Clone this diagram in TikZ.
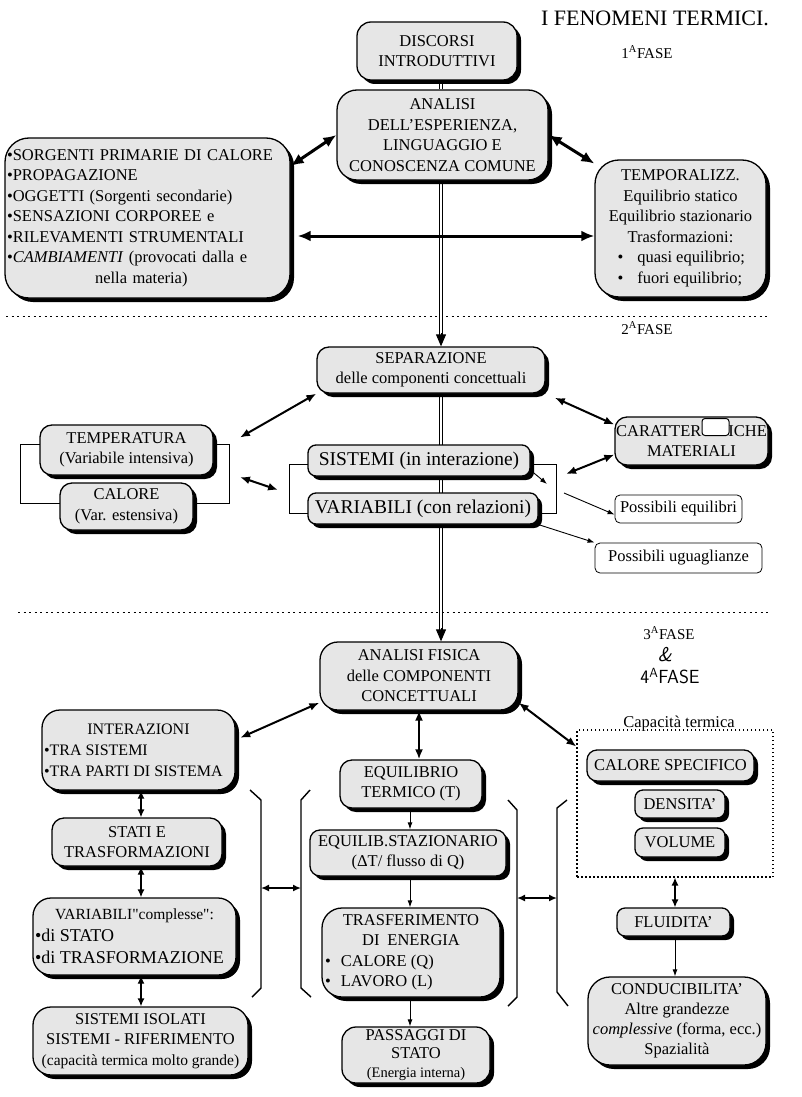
\documentclass[tikz,border=0pt]{standalone}
\usepackage{fontspec}
\setmainfont{Liberation Serif}
\usepackage{tikz}
\usetikzlibrary{arrows.meta,positioning,shadows,backgrounds}
\definecolor{speck}{RGB}{230,230,230}
\newcommand{\lline}[2]{\makebox[#1][l]{#2}}

\begin{document}
\begin{tikzpicture}[x=1pt,y=-1pt,
      font=\fontsize{16.5}{20.5}\selectfont,
      wh/.style 2 args={minimum width=#1,minimum height=#2},
      box/.style={draw,line width=1.3pt,rounded corners=10pt,fill=speck,align=center,inner sep=2pt,
                  drop shadow={shadow xshift=4pt,shadow yshift=-4pt,fill=black,opacity=1}},
      note/.style={draw,line width=0.8pt,rounded corners=5pt,fill=white,inner sep=2pt},
      grp/.style={draw,line width=1pt,inner sep=0pt},
      capbox/.style={draw,line width=1.2pt,dash pattern=on 1.5pt off 2.5pt,inner sep=0pt},
      sepl/.style={line width=1pt,dash pattern=on 2pt off 3.5pt},
      dbl/.style={double,double distance=2.4pt,line width=0.8pt},
      dhead/.style={-{Triangle[length=12pt,width=10pt]},line width=1pt},
      ar/.style={{Latex[length=13pt,width=11pt]}-{Latex[length=13pt,width=11pt]},line width=3pt},
      ar2/.style={{Latex[length=10pt,width=8pt]}-{Latex[length=10pt,width=8pt]},line width=2pt},
      tar2/.style={{Latex[length=8pt,width=7pt]}-{Latex[length=8pt,width=7pt]},line width=1.3pt},
      tar/.style={-{Latex[length=7pt,width=5pt]},line width=0.9pt},
      brk/.style={line width=1.4pt}]
  \useasboundingbox (0,0) rectangle (801,1097);

  % 1a fase
  \node[font=\fontsize{22}{24}\selectfont] (title) at (655,18) {I FENOMENI TERMICI.};
  \node[font=\fontsize{15}{18}\selectfont] (ph1) at (647,52) {1\textsuperscript{A}FASE};
  \node[box,rounded corners=14pt,wh={160pt}{58pt}] (disc) at (437,51) {DISCORSI\\INTRODUTTIVI};
  \node[box,rounded corners=20pt,wh={211pt}{90pt}] (anal) at (442.5,135) {ANALISI\\DELL'ESPERIENZA,\\LINGUAGGIO E\\CONOSCENZA COMUNE};
  \node[box,rounded corners=24pt,wh={285pt}{160pt},text width=281pt,align=left] (fonti) at (147.5,218) {%
    \textbullet SORGENTI PRIMARIE DI CALORE\\
    \textbullet PROPAGAZIONE\\
    \textbullet OGGETTI (Sorgenti secondarie)\\
    \textbullet SENSAZIONI CORPOREE e\\
    \textbullet RILEVAMENTI STRUMENTALI\\
    \textbullet\textit{CAMBIAMENTI} (provocati dalla e\\
    \hspace*{88pt}nella materia)};
  \node[box,rounded corners=24pt,wh={171pt}{137pt}] (tempo) at (680.5,228.5) {TEMPORALIZZ.\\Equilibrio statico\\Equilibrio stazionario\\Trasformazioni:\\\lline{126pt}{\textbullet\hspace{14pt}quasi equilibrio;}\\\lline{126pt}{\textbullet\hspace{14pt}fuori equilibrio;}};

  % 2a fase
  \node[font=\fontsize{15}{18}\selectfont] (ph2) at (647,328) {2\textsuperscript{A}FASE};
  \node[box,rounded corners=12pt,wh={228pt}{46pt}] (sepa) at (431,370) {SEPARAZIONE\\delle componenti concettuali};
  \node[box,rounded corners=12pt,wh={173pt}{50pt}] (temp) at (126.5,450) {TEMPERATURA\\(Variabile intensiva)};
  \node[box,rounded corners=12pt,wh={133pt}{47pt}] (calo) at (126.5,506.5) {CALORE\\(Var. estensiva)};
  \node[box,rounded corners=8pt,wh={222pt}{31pt},font=\fontsize{19.5}{22}\selectfont] (sist) at (419,460.5) {SISTEMI (in interazione)};
  \node[box,rounded corners=8pt,wh={230pt}{31pt},font=\fontsize{19.5}{22}\selectfont] (vari) at (423,508.5) {VARIABILI (con relazioni)};
  \node[box,rounded corners=12pt,wh={153pt}{48pt},inner xsep=1pt] (cara) at (691.5,441) {CARATTER\hspace{27pt}ICHE\\MATERIALI};
  \node[note,wh={27pt}{17pt},rounded corners=3pt,line width=1pt] (blot) at (715.5,427) {};
  \node[note,wh={127pt}{28pt}] (pequ) at (678.5,509) {Possibili equilibri};
  \node[note,wh={167pt}{30pt}] (pugu) at (678.5,558) {Possibili uguaglianze};

  % 3a e 4a fase
  \node[font=\fontsize{15}{18}\selectfont] (ph3) at (669,633) {3\textsuperscript{A}FASE};
  \node[font=\sffamily\itshape\fontsize{20}{20}\selectfont] (amp) at (665,655) {\&};
  \node[font=\sffamily\fontsize{19}{20}\selectfont] (ph4) at (670,676) {4\textsuperscript{A}FASE};
  \node[box,rounded corners=18pt,wh={198pt}{68pt}] (fisi) at (419,676) {ANALISI FISICA\\delle COMPONENTI\\CONCETTUALI};
  \node[box,rounded corners=18pt,wh={193pt}{80pt},font=\fontsize{16}{21}\selectfont] (inte) at (138.5,750) {INTERAZIONI\\\lline{189pt}{\textbullet TRA SISTEMI}\\\lline{189pt}{\textbullet TRA PARTI DI SISTEMA}};
  \node[box,rounded corners=12pt,wh={170pt}{48pt}] (stat) at (137,842) {STATI E\\TRASFORMAZIONI};
  \node[box,rounded corners=18pt,wh={203pt}{77pt},font=\fontsize{18}{22}\selectfont] (vcom) at (134.5,936.5) {{\fontsize{15.5}{22}\selectfont VARIABILI\textquotedbl complesse\textquotedbl:}\\\lline{199pt}{\textbullet di STATO}\\\lline{199pt}{\textbullet di TRASFORMAZIONE}};
  \node[box,rounded corners=18pt,wh={215pt}{68pt}] (isol) at (140.5,1041) {SISTEMI ISOLATI\\SISTEMI - RIFERIMENTO\\{\fontsize{15.5}{18}\selectfont(capacità termica molto grande)}};
  \node[box,rounded corners=12pt,wh={142pt}{48pt}] (eter) at (411,784) {EQUILIBRIO\\TERMICO (T)};
  \node[box,rounded corners=10pt,wh={196pt}{46pt}] (esta) at (408,853) {EQUILIB.STAZIONARIO\\(ΔT/ flusso di Q)};
  \node[box,rounded corners=20pt,wh={178pt}{89pt}] (tras) at (411,952.5) {TRASFERIMENTO\\DI\hspace{8pt}ENERGIA\\\lline{172pt}{\textbullet\hspace{10pt}CALORE (Q)}\\\lline{172pt}{\textbullet\hspace{10pt}LAVORO (L)}};
  \node[box,rounded corners=14pt,wh={148pt}{56pt},font=\fontsize{16.5}{18.5}\selectfont] (pass) at (416,1055) {PASSAGGI DI\\STATO\\{\fontsize{14.5}{17}\selectfont(Energia interna)}};
  \node[capbox,wh={196pt}{147pt}] (capa) at (675,803.5) {};
  \node[anchor=base] (capt) at (679,727) {Capacità termica};
  \node[box,rounded corners=10pt,wh={167pt}{31pt}] (cspe) at (670.5,765.5) {CALORE SPECIFICO};
  \node[box,rounded corners=8pt,wh={90pt}{28pt}] (dens) at (680,804) {DENSITA'};
  \node[box,rounded corners=8pt,wh={90pt}{29pt}] (volu) at (680,842.5) {VOLUME};
  \node[box,rounded corners=8pt,wh={113pt}{28pt}] (flui) at (673.5,922) {FLUIDITA'};
  \node[box,rounded corners=22pt,wh={178pt}{88pt},font=\fontsize{16.5}{20}\selectfont] (cond) at (677,1021) {CONDUCIBILITA'\\Altre grandezze\\\textit{complessive} (forma, ecc.)\\Spazialità};

  \coordinate (spine) at (441,0);
  \coordinate (lcol) at (141,0);
  \coordinate (ccol) at (410,0);
  \coordinate (rcol) at (675,0);
  \coordinate (hl) at (0,236);
  \coordinate (h1) at (spine |- sepa.north);
  \coordinate (h2) at (spine |- fisi.north);
  \coordinate (cs) at (547,484);
  \coordinate (cq) at (564,493);
  \coordinate (ck) at (566,474);
  \coordinate (b1) at (261,888);
  \coordinate (b2) at (301,888);
  \coordinate (b3) at (517,898);
  \coordinate (b4) at (557,898);

  \begin{scope}[on background layer]
    \node[grp,wh={209pt}{59pt}] (tgrp) at (124.5,473.5) {};
    \node[grp,wh={267pt}{49pt}] (sgrp) at (422.5,488.5) {};
    \draw[sepl] (6,316) -- (768,316);
    \draw[sepl] (18,612) -- (770,612);
    \draw[dbl] (spine |- disc.south) -- (spine |- anal.north);
    \draw[dbl] (spine |- anal.south) -- ([yshift=11pt]h1);
    \draw[dbl] (spine |- sepa.south) -- ([yshift=11pt]h2);
  \end{scope}
  \draw[dhead] ([yshift=13pt]h1) -- (h1);
  \draw[dhead] ([yshift=13pt]h2) -- (h2);

  \draw[ar] (anal.west) -- (fonti.20);
  \draw[ar] (anal.east) -- (tempo.143);
  \draw[ar,shorten <=7pt] (fonti.east |- hl) -- (tempo.west |- hl);

  \draw[ar2,shorten >=12pt] (sepa.south west) -- (tgrp.north east);
  \draw[ar2,shorten <=11pt,shorten >=11pt] (tgrp.east) -- ([yshift=-5pt]sgrp.west);
  \draw[ar2,shorten <=10pt] (sepa.south east) -- (cara.168);
  \draw[ar2] (cara.190) -- (ck);
  \draw[tar] (sist.-5) -- (cs);
  \draw[tar] (cq) -- (pequ.185);
  \draw[tar] (vari.south east) -- (pugu.north west);

  \draw[ar2,shorten >=5pt] (fisi.195) -- (inte.6);
  \draw[ar2] (fisi.south) -- (fisi.south |- eter.north);
  \draw[ar2] (fisi.-15) -- (capa.150);
  \draw[tar2] (lcol |- inte.south) -- (lcol |- stat.north);
  \draw[tar2] (lcol |- stat.south) -- (lcol |- vcom.north);
  \draw[tar2] (lcol |- vcom.south) -- (lcol |- isol.north);
  \draw[tar] (ccol |- eter.south) -- (ccol |- esta.north);
  \draw[tar] (ccol |- esta.south) -- (ccol |- tras.north);
  \draw[tar] (ccol |- tras.south) -- (ccol |- pass.north);
  \draw[tar2] (rcol |- capa.south) -- (rcol |- flui.north);
  \draw[tar] (rcol |- flui.south) -- (rcol |- cond.north);

  \draw[brk] (250,790) -- (261,800) -- (261,988) -- (252,997);
  \draw[brk] (310,790) -- (301,800) -- (301,988) -- (311,997);
  \draw[brk] (508,800) -- (517,810) -- (517,997) -- (508,1006);
  \draw[brk] (567,800) -- (557,808) -- (557,992) -- (568,1006);
  \draw[tar2,line width=1.6pt] (b1) -- (b2);
  \draw[tar2,line width=1.6pt] (b3) -- (b4);
\end{tikzpicture}
\end{document}
